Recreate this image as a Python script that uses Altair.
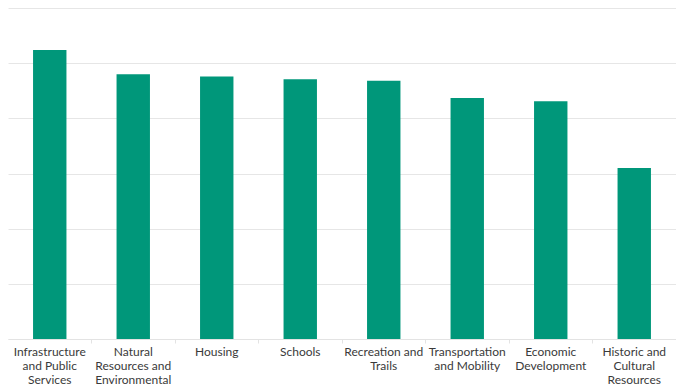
import altair as alt
import pandas as pd

categories = [
    "Infrastructure|and Public|Services",
    "Natural|Resources and|Environmental",
    "Housing",
    "Schools",
    "Recreation and|Trails",
    "Transportation|and Mobility",
    "Economic|Development",
    "Historic and|Cultural|Resources",
]
values = [52.4, 48.0, 47.6, 47.1, 46.8, 43.7, 43.1, 31.0]

df = pd.DataFrame({"category": categories, "value": values})

chart = alt.Chart(df).mark_bar(color="#00977A").encode(
    x=alt.X(
        "category:N",
        sort=categories,
        title=None,
        scale=alt.Scale(paddingInner=0.6, paddingOuter=0.3),
        axis=alt.Axis(
            labelAngle=0,
            labelExpr="split(datum.label, '|')",
            labelFont="Lato",
            labelFontSize=12,
            labelColor="#3a3a3a",
            labelLineHeight=14,
            labelPadding=3,
            labelBaseline="top",
            labelLimit=0,
            domainColor="#e3e3e3",
            tickColor="#e3e3e3",
            tickSize=4,
            bandPosition=1.75,
            grid=False,
        ),
    ),
    y=alt.Y(
        "value:Q",
        title=None,
        scale=alt.Scale(domain=[0, 60], nice=False),
        axis=alt.Axis(
            values=[0, 10, 20, 30, 40, 50, 60],
            labels=False,
            ticks=False,
            domain=False,
            gridColor="#e6e6e6",
        ),
    ),
).properties(
    width=668,
    height=331,
    background="white",
    padding={"left": 0, "top": 0, "right": 0, "bottom": 50},
    autosize=alt.AutoSizeParams(type="none"),
).configure_view(stroke="transparent", strokeWidth=0)

chart.save("out.html", embed_options={"renderer": "svg", "actions": False})
